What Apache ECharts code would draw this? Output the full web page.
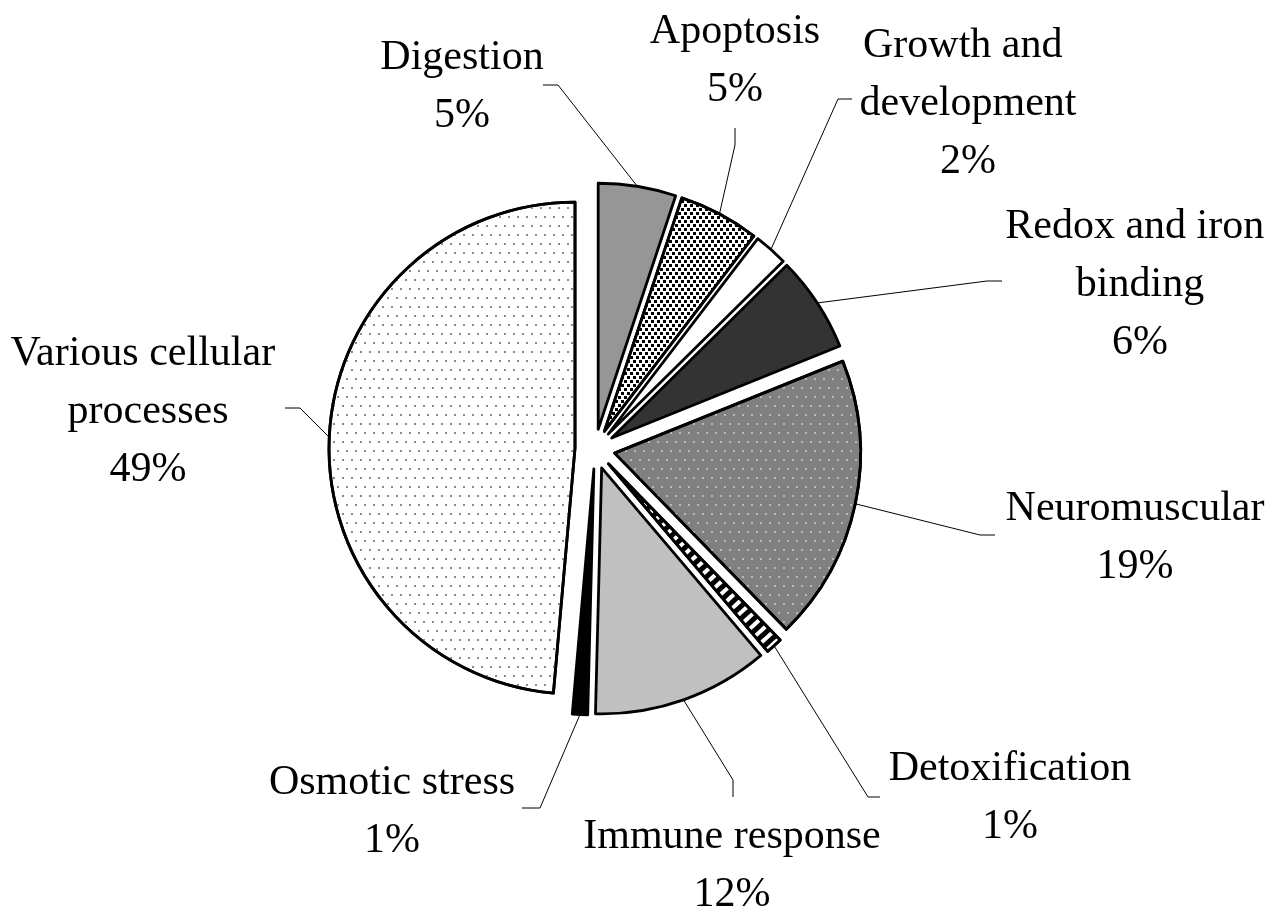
<!DOCTYPE html>
<html><head><meta charset="utf-8">
<script src="https://cdn.jsdelivr.net/npm/echarts@6/dist/echarts.min.js"></script>
<style>html,body{margin:0;padding:0;background:#fff}#main{width:1281px;height:913px}</style>
</head><body><div id="main"></div>
<script>
// ---- data ----
const categories = ['Digestion', 'Apoptosis', 'Growth and development', 'Redox and iron binding',
  'Neuromuscular', 'Detoxification', 'Immune response', 'Osmotic stress', 'Various cellular processes'];
const values = [5.1, 5.3, 2.2, 6.3, 18.8, 1.1, 11.6, 1.0, 48.6];

// ---- layout ----
const CX = 595, CY = 449, R = 246, OFFSET = 20;
const labelPos = [[462, 87], [735, 61], [968, 104], [1140, 285], [1135, 538], [1010, 798], [732, 866], [392, 812], [148, 412]];
const labelWrap = [null, null, 240, 285, null, null, null, null, 295];
const leaderBends = [
  [[558, 85], [543, 85]], [[735, 145], [735, 128]], [[838, 99], [852, 99]], [[987, 281], [1002, 281]],
  [[980, 535], [995, 535]], [[868, 797], [880, 797]], [[733, 780], [733, 797]], [[540, 808], [522, 808]],
  [[300, 408], [285, 408]]
];

const dotLattice = { dashArrayX: [[2, 7], [0, 4, 2, 3]], dashArrayY: [2, 7], symbol: 'rect', symbolSize: 1 };
const sliceStyles = [
  { color: '#969696' },
  { color: '#ffffff', decal: { symbol: 'rect', symbolSize: 1, color: '#000', dashArrayX: [[3, 3], [0, 3, 3, 0]], dashArrayY: [3, 1] } },
  { color: '#ffffff' },
  { color: '#333333' },
  { color: '#808080', decal: Object.assign({ color: '#b8b8b8' }, dotLattice) },
  { color: '#ffffff', decal: { symbol: 'rect', symbolSize: 1, color: '#000', dashArrayX: [5, 4], dashArrayY: [1, 0], rotation: 0.83 } },
  { color: '#c0c0c0' },
  { color: '#000000' },
  { color: '#ffffff', decal: Object.assign({ color: '#8a8a8a' }, dotLattice) }
];

const total = values.reduce((a, b) => a + b, 0);
const midAngles = [];
let acc = 0;
values.forEach(v => { midAngles.push((acc + v / 2) / total * 2 * Math.PI); acc += v; });

// One pie series per exploded slice: every series holds the full data (so the library
// computes the same angles), only its own slice is drawn, shifted along its bisector.
const series = categories.map((_, k) => {
  const a = midAngles[k];
  return {
    type: 'pie',
    silent: true,
    center: [CX + OFFSET * Math.sin(a), CY - OFFSET * Math.cos(a)],
    radius: R,
    startAngle: 90,
    clockwise: true,
    avoidLabelOverlap: false,
    emphasis: { disabled: true },
    data: categories.map((name, i) => i === k ? {
      name: name, value: values[i],
      itemStyle: Object.assign({ borderColor: '#000', borderWidth: 2.8 }, sliceStyles[i]),
      label: Object.assign({ show: true }, labelWrap[i] ? { width: labelWrap[i], overflow: 'break' } : {}),
      labelLine: { show: true }
    } : {
      name: name, value: values[i],
      itemStyle: { color: 'rgba(0,0,0,0)', borderWidth: 0 },
      label: { show: false }, labelLine: { show: false }
    }),
    label: {
      fontFamily: 'Liberation Serif',
      fontSize: 42,
      lineHeight: 58,
      color: '#000',
      align: 'center',
      formatter: p => p.name + '\n' + Math.round(p.percent) + '%'
    },
    labelLine: { lineStyle: { color: '#000', width: 1 } },
    labelLayout: function (params) {
      const i = params.dataIndex;
      if (i !== k) return {};
      const ang = midAngles[i];
      const p0 = [CX + (R + OFFSET) * Math.sin(ang), CY - (R + OFFSET) * Math.cos(ang)];
      return {
        x: labelPos[i][0], y: labelPos[i][1], align: 'center', verticalAlign: 'middle',
        labelLinePoints: [p0, leaderBends[i][0], leaderBends[i][1]]
      };
    }
  };
});

const chart = echarts.init(document.getElementById('main'), null, { renderer: 'canvas' });
chart.setOption({ animation: false, backgroundColor: '#ffffff', series: series });
</script></body></html>
